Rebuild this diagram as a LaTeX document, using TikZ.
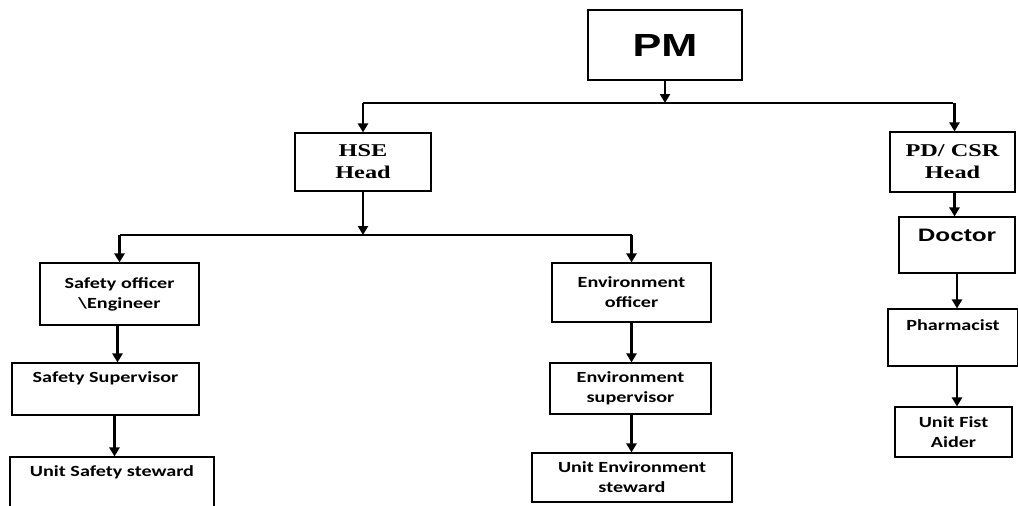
\documentclass[tikz,border=0pt]{standalone}
\usepackage{fontspec}
\usetikzlibrary{arrows.meta,positioning}
\newfontfamily\calfont[FakeStretch=1.3]{Carlito}
\newfontfamily\arifont[FakeStretch=1.35]{Liberation Sans}
\newfontfamily\timfont[FakeStretch=1.35]{Liberation Serif}
\begin{document}
\begin{tikzpicture}
        [ x=1pt, y=-1pt,
          every node/.style = {draw=black,line width=1.1pt,align=center,inner sep=2pt,
                               font=\calfont\bfseries\fontsize{15.5}{20}\selectfont},
          head node/.style = {font=\timfont\bfseries\fontsize{18}{22}\selectfont},
          txt/.style = {draw=none,anchor=north,yshift=-7pt},
          arr/.style = {line width=2.6pt,-{Triangle[width=10pt,length=9pt]}},
          bus/.style = {line width=1.3pt}]
        \useasboundingbox (0,0) rectangle (1018,506);
        % top
        \node[minimum width=154,minimum height=70,
              font=\arifont\bfseries\fontsize{32}{36}\selectfont] (pm) at (665,45) {PM};
        \node[head node,minimum width=136,minimum height=58] (hse) at (363,162) {HSE\\Head};
        \node[head node,minimum width=125,minimum height=60] (pd) at (952.5,162) {PD/ CSR\\Head};
        \coordinate (bus1) at (665,103);
        \draw[arr] (pm.south) -- (bus1);
        \draw[bus] (hse.north |- bus1) -- (pd.north |- bus1);
        \draw[arr] (hse.north |- bus1) -- (hse.north);
        \draw[arr] ([xshift=2pt]pd.north |- bus1) -- ([xshift=2pt]pd.north);
        % safety and environment
        \node[minimum width=159,minimum height=62] (safeoff) at (119.5,294) {Safety officer\\\textbackslash Engineer};
        \node[minimum width=187,minimum height=52,
              label={[txt]north:Safety Supervisor}] (safesup) at (105.5,389) {};
        \node[minimum width=204,minimum height=62,
              label={[txt]north:Unit Safety steward}] (safestew) at (112,488) {};
        \node[minimum width=159,minimum height=59] (envoff) at (631.5,292.5) {Environment\\officer};
        \node[minimum width=161,minimum height=51] (envsup) at (630.5,388.5) {Environment\\supervisor};
        \node[minimum width=200,minimum height=49] (envstew) at (632,477.5) {Unit Environment\\steward};
        \coordinate (bus2) at (363,235);
        \draw[arr] (hse.south) -- (bus2);
        \draw[bus] (safeoff.north |- bus2) -- (envoff.north |- bus2);
        \draw[arr] (safeoff.north |- bus2) -- (safeoff.north);
        \draw[arr] (envoff.north |- bus2) -- (envoff.north);
        \draw[arr] ([xshift=-2pt]safeoff.south) -- ([xshift=-2pt]safeoff.south |- safesup.north);
        \draw[arr] ([xshift=9pt]safesup.south) -- ([xshift=9pt]safesup.south |- safestew.north);
        \draw[arr] (envoff.south) -- (envoff.south |- envsup.north);
        \draw[arr] (envoff.south |- envsup.south) -- (envoff.south |- envstew.north);
        % medical
        \node[minimum width=116,minimum height=56,
              label={[txt,yshift=-3pt,font=\arifont\bfseries\fontsize{18}{22}\selectfont]north:Doctor}]
              (doctor) at (957,245) {};
        \node[minimum width=130,minimum height=57,
              label={[txt,yshift=-2pt]north:Pharmacist}] (pharm) at (953,337.5) {};
        \node[minimum width=117,minimum height=50] (aider) at (953.5,432) {Unit Fist\\Aider};
        \draw[arr] ([xshift=2pt]pd.south) -- ([xshift=2pt]pd.south |- doctor.north);
        \draw[arr] (doctor.south) -- (doctor.south |- pharm.north);
        \draw[arr] (doctor.south |- pharm.south) -- (doctor.south |- aider.north);
    \end{tikzpicture}
\end{document}
